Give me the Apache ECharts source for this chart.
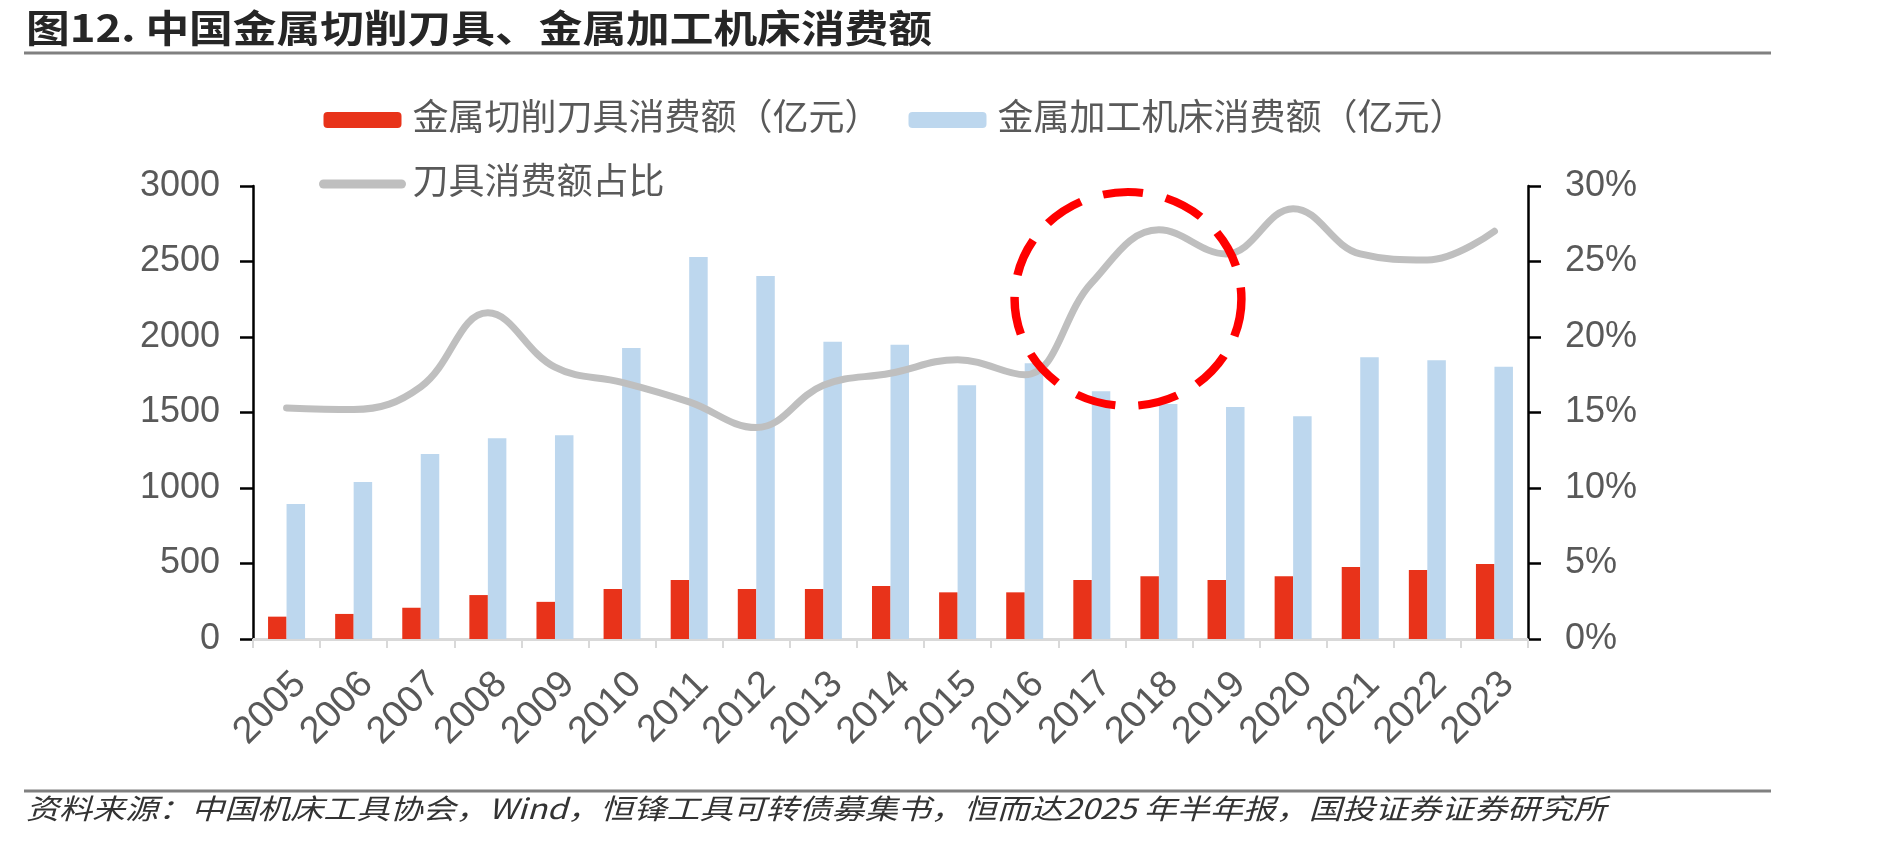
<!DOCTYPE html>
<html>
<head>
<meta charset="utf-8">
<script src="https://cdn.jsdelivr.net/npm/echarts@6/dist/echarts.min.js"></script>
<style>
  html, body { margin: 0; padding: 0; background: #fff; }
  #main { width: 1889px; height: 841px; }
</style>
</head>
<body>
<div id="main"></div>
<script>
const years = ['2005', '2006', '2007', '2008', '2009', '2010', '2011', '2012', '2013', '2014',
  '2015', '2016', '2017', '2018', '2019', '2020', '2021', '2022', '2023'];
// 金属切削刀具消费额（亿元）
const toolValues = [148, 166, 207, 291, 246, 331, 391, 331, 331, 351, 309, 309, 391, 415, 391, 415, 477, 457, 497];
// 金属加工机床消费额（亿元）
const machineValues = [894, 1040, 1225, 1329, 1349, 1927, 2530, 2404, 1969, 1949, 1680, 1826, 1640, 1556, 1537, 1475, 1866, 1846, 1803];
// 刀具消费额占比（%）
const shareValues = [15.3, 15.2, 16.7, 21.6, 18.0, 17.0, 15.7, 14.0, 16.8, 17.6, 18.5, 17.5, 23.6, 27.1, 25.5, 28.5, 25.5, 25.1, 27.0];

const seriesNames = ['金属切削刀具消费额（亿元）', '金属加工机床消费额（亿元）', '刀具消费额占比'];
const titleText = '图12. 中国金属切削刀具、金属加工机床消费额';
const sourceText = '资料来源：中国机床工具协会，Wind，恒锋工具可转债募集书，恒而达2025 年半年报，国投证券证券研究所';

const fontFamily = '"Liberation Sans", Arial, "Noto Sans CJK SC", sans-serif';
const labelColor = '#595959';

const chart = echarts.init(document.getElementById('main'));

const option = {
  animation: false,
  backgroundColor: '#fff',
  textStyle: { fontFamily: fontFamily },
  grid: { left: 253, right: 361, top: 186, bottom: 202, containLabel: false },
  legend: {
    left: 319,
    top: 102,
    padding: 0,
    width: 1250,
    itemWidth: 78,
    itemHeight: 16,
    itemGap: 28,
    textStyle: { fontSize: 36, color: labelColor, fontFamily: fontFamily, padding: [0, 0, 0, 6] },
    data: [
      seriesNames[0],
      seriesNames[1],
      { name: seriesNames[2], itemStyle: { opacity: 0 }, lineStyle: { width: 9, cap: 'round' } }
    ]
  },
  xAxis: {
    type: 'category',
    data: years,
    axisLine: { lineStyle: { color: '#d9d9d9', width: 3 } },
    axisTick: { show: true, length: 9, lineStyle: { color: '#d9d9d9', width: 2 } },
    axisLabel: { rotate: 45, fontSize: 38, color: labelColor, margin: 26, interval: 0, verticalAlign: 'top' }
  },
  yAxis: [
    {
      type: 'value',
      min: 0,
      max: 3000,
      interval: 500,
      axisLine: { show: true, lineStyle: { color: '#000', width: 2.5 } },
      axisTick: { show: true, length: 13, lineStyle: { color: '#000', width: 2.5 } },
      splitLine: { show: false },
      axisLabel: { fontSize: 36, color: labelColor, margin: 33, formatter: (v) => String(v) }
    },
    {
      type: 'value',
      position: 'right',
      min: 0,
      max: 30,
      interval: 5,
      axisLine: { show: true, lineStyle: { color: '#000', width: 2.5 } },
      axisTick: { show: true, length: 13, lineStyle: { color: '#000', width: 2.5 } },
      splitLine: { show: false },
      axisLabel: { fontSize: 36, color: labelColor, margin: 37, formatter: '{value}%' }
    }
  ],
  series: [
    {
      name: seriesNames[0],
      type: 'bar',
      data: toolValues,
      barWidth: 18.5,
      barGap: '0%',
      itemStyle: { color: '#E8331A' }
    },
    {
      name: seriesNames[1],
      type: 'bar',
      data: machineValues,
      barWidth: 18.5,
      itemStyle: { color: '#BDD7EE' }
    },
    {
      name: seriesNames[2],
      type: 'line',
      yAxisIndex: 1,
      data: shareValues,
      smooth: 0.4,
      symbol: 'none',
      lineStyle: { color: '#BFBFBF', width: 7, cap: 'round' },
      itemStyle: { color: '#BFBFBF' },
      z: 3
    }
  ],
  graphic: [
    {
      type: 'text',
      x: 26,
      y: 28,
      scaleX: 1.15,
      style: {
        text: titleText,
        font: 'bold 38px "Noto Sans CJK SC", sans-serif',
        fill: '#262626',
        verticalAlign: 'middle'
      }
    },
    {
      type: 'line',
      shape: { x1: 24, y1: 53, x2: 1771, y2: 53 },
      style: { stroke: '#808080', lineWidth: 3 }
    },
    {
      type: 'line',
      shape: { x1: 24, y1: 791, x2: 1771, y2: 791 },
      style: { stroke: '#808080', lineWidth: 3 }
    },
    {
      type: 'text',
      x: 26,
      y: 808,
      scaleX: 1.18,
      style: {
        text: sourceText,
        font: 'italic 28px "Noto Sans CJK SC", sans-serif',
        fill: '#333',
        verticalAlign: 'middle'
      }
    },
    {
      // dashed red highlight circle
      type: 'circle',
      x: 1128,
      y: 299,
      scaleX: 1.06,
      shape: { cx: 0, cy: 0, r: 107 },
      style: { fill: 'none', stroke: '#FF0000', lineWidth: 8, lineDash: [38, 22] },
      z: 10
    }
  ]
};

chart.setOption(option);
</script>
</body>
</html>
